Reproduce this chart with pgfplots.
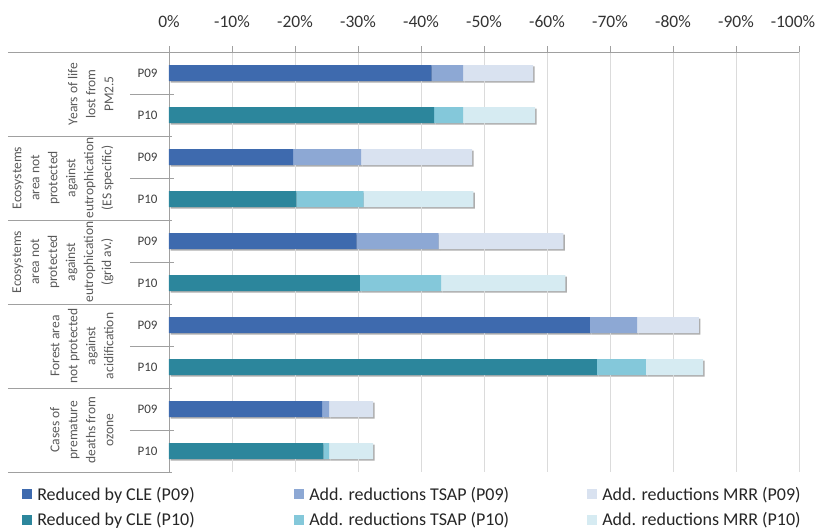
\documentclass[border=0pt]{standalone}
\usepackage{pgfplots}
\pgfplotsset{compat=1.18}
\usepackage{pgfplotstable}
\usepackage{fontspec}
\setmainfont{Carlito}

% series colours
\definecolor{cleA}{RGB}{62,106,174}
\definecolor{tsapA}{RGB}{141,168,212}
\definecolor{mrrA}{RGB}{217,226,240}
\definecolor{cleB}{RGB}{44,134,156}
\definecolor{tsapB}{RGB}{132,200,218}
\definecolor{mrrB}{RGB}{214,235,242}
\definecolor{linegray}{RGB}{160,160,160}

% reductions in percent, one row per bar (top to bottom)
\pgfplotstableread{
row cle09 tsap09 mrr09 cle10 tsap10 mrr10
0   41.7  5.0    11.1  0     0      0
1   0     0      0     42.1  4.6    11.4
2   19.7  10.8   17.6  0     0      0
3   0     0      0     20.2  10.7   17.4
4   29.8  13.0   19.8  0     0      0
5   0     0      0     30.3  12.9   19.7
6   66.8  7.5    9.8   0     0      0
7   0     0      0     67.9  7.8    9.1
8   24.3  1.1    7.0   0     0      0
9   0     0      0     24.5  0.9    7.0
}\reductions

\pgfplotsset{
  base/.style={
    anchor=south west, scale only axis,
    width=630pt, height=420pt,
    xmin=0, xmax=100, ymin=-0.5, ymax=9.5,
    y dir=reverse, xbar stacked, bar width=16pt,
  },
}

\begin{document}
\begin{tikzpicture}[x=1pt,y=1pt]
\useasboundingbox (-169,-60) rectangle (650,472);

% drop shadow of the bars
\begin{axis}[base, at={(1.5pt,-1.5pt)}, hide axis]
\addplot[fill=black!32, draw=none] table[x=cle09, y=row]{\reductions};
\addplot[fill=black!32, draw=none] table[x=tsap09, y=row]{\reductions};
\addplot[fill=black!32, draw=none] table[x=mrr09, y=row]{\reductions};
\addplot[fill=black!32, draw=none] table[x=cle10, y=row]{\reductions};
\addplot[fill=black!32, draw=none] table[x=tsap10, y=row]{\reductions};
\addplot[fill=black!32, draw=none] table[x=mrr10, y=row]{\reductions};
\end{axis}

\begin{axis}[base, at={(0pt,0pt)}, clip=false,
  axis x line*=top, axis y line*=left,
  axis line style={draw=linegray},
  xtick={0,10,...,100},
  xticklabels={0\%,-10\%,-20\%,-30\%,-40\%,-50\%,-60\%,-70\%,-80\%,-90\%,\hspace*{-12pt}-100\%},
  xticklabel style={font=\fontsize{17.5}{20}\selectfont, text=black!80, yshift=15pt},
  xtick style={draw=linegray},
  tick align=outside, major tick length=6pt,
  xmajorgrids, major grid style={draw=black!14},
  ytick={0,...,9},
  yticklabels={P09,P10,P09,P10,P09,P10,P09,P10,P09,P10},
  yticklabel style={font=\fontsize{13}{13}\selectfont, text=black!75, xshift=-2pt},
  ytick style={draw=none},
  legend image code/.code={\fill[#1] (0pt,-5pt) rectangle (10pt,5pt);},
  legend columns=3,
  legend style={draw=none, at={(-0.238,-0.026)}, anchor=north west,
    font=\fontsize{18}{20}\selectfont, text=black!85, row sep=7pt},
]
\addplot[fill=cleA, draw=none] table[x=cle09, y=row]{\reductions};
\addlegendentry{\makebox[258pt][l]{\hspace*{3pt}Reduced by CLE (P09)}}
\addplot[fill=tsapA, draw=none] table[x=tsap09, y=row]{\reductions};
\addlegendentry{\makebox[279pt][l]{\hspace*{3pt}Add. reductions TSAP (P09)}}
\addplot[fill=mrrA, draw=none] table[x=mrr09, y=row]{\reductions};
\addlegendentry{\hspace*{3pt}Add. reductions MRR (P09)}
\addplot[fill=cleB, draw=none] table[x=cle10, y=row]{\reductions};
\addlegendentry{\makebox[258pt][l]{\hspace*{3pt}Reduced by CLE (P10)}}
\addplot[fill=tsapB, draw=none] table[x=tsap10, y=row]{\reductions};
\addlegendentry{\makebox[279pt][l]{\hspace*{3pt}Add. reductions TSAP (P10)}}
\addplot[fill=mrrB, draw=none] table[x=mrr10, y=row]{\reductions};
\addlegendentry{\hspace*{3pt}Add. reductions MRR (P10)}

% category separators on the left
\draw[linegray] ([xshift=-161pt]axis cs:0,-0.5) -- ([xshift=3pt]axis cs:0,-0.5);
\draw[linegray] ([xshift=-161pt]axis cs:0,1.5) -- ([xshift=3pt]axis cs:0,1.5);
\draw[linegray] ([xshift=-161pt]axis cs:0,3.5) -- ([xshift=3pt]axis cs:0,3.5);
\draw[linegray] ([xshift=-161pt]axis cs:0,5.5) -- ([xshift=3pt]axis cs:0,5.5);
\draw[linegray] ([xshift=-161pt]axis cs:0,7.5) -- ([xshift=3pt]axis cs:0,7.5);
\draw[linegray] ([xshift=-161pt]axis cs:0,9.5) -- ([xshift=3pt]axis cs:0,9.5);
\draw[linegray] ([xshift=-39pt]axis cs:0,0.5) -- ([xshift=5pt]axis cs:0,0.5);
\draw[linegray] ([xshift=-39pt]axis cs:0,2.5) -- ([xshift=5pt]axis cs:0,2.5);
\draw[linegray] ([xshift=-39pt]axis cs:0,4.5) -- ([xshift=5pt]axis cs:0,4.5);
\draw[linegray] ([xshift=-39pt]axis cs:0,6.5) -- ([xshift=5pt]axis cs:0,6.5);
\draw[linegray] ([xshift=-39pt]axis cs:0,8.5) -- ([xshift=5pt]axis cs:0,8.5);

% group labels
\tikzset{grp/.style={rotate=90, anchor=south, align=center,
    font=\fontsize{13.5}{18}\selectfont, text=black!65}}
\node[grp] at ([xshift=-52pt]axis cs:0,0.5) {Years of life\\lost from\\PM2.5};
\node[grp] at ([xshift=-52pt]axis cs:0,2.5) {Ecosystems\\area not\\protected\\against\\eutrophication\\(ES specific)};
\node[grp] at ([xshift=-52pt]axis cs:0,4.5) {Ecosystems\\area not\\protected\\against\\eutrophication\\(grid av.)};
\node[grp] at ([xshift=-52pt]axis cs:0,6.5) {Forest area\\not protected\\against\\acidification};
\node[grp] at ([xshift=-52pt]axis cs:0,8.5) {Cases of\\premature\\deaths from\\ozone};
\end{axis}
\end{tikzpicture}
\end{document}
